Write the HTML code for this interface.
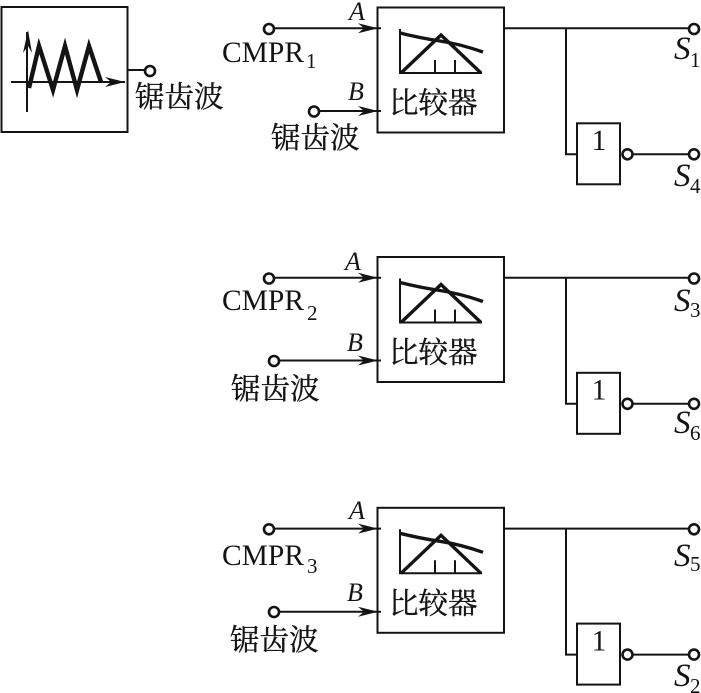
<!DOCTYPE html>
<html>
<head>
<meta charset="utf-8">
<style>
html,body{margin:0;padding:0;background:#fff;width:701px;height:693px;overflow:hidden}
svg{display:block}
text{fill:#141414}
.cn{font-family:"Liberation Serif","Noto Serif CJK SC",serif;font-size:29.500px;stroke:#141414;stroke-width:.35}
.la{font-family:"Liberation Serif",serif;font-size:29.500px}
.sub{font-family:"Liberation Serif",serif;font-size:21px}
.it{font-family:"Liberation Serif",serif;font-style:italic;font-size:26px}
.s{font-family:"Liberation Serif",serif;font-style:italic;font-size:33px}
.l{stroke:#141414;stroke-width:2;fill:none}
.c{stroke:#141414;stroke-width:2.600;fill:#fff}
.b{stroke:#141414;stroke-width:3.400;fill:none}
</style>
</head>
<body>
<svg width="701" height="693" viewBox="0 0 701 693" xmlns="http://www.w3.org/2000/svg">
<defs>
<path id="ah" d="M0 0 L-20 -5 L-14 0 L-20 5 Z" fill="#141414"/>
<g id="comp">
  <rect x="377.500" y="7.500" width="126.500" height="125" class="l"/>
  <path d="M400 29 V73 H482" class="l"/>
  <path d="M435 60 V73 M455 60 V73" class="l"/>
  <path d="M401 73 L441 35 L481 73" class="b"/>
  <path d="M400 33 Q420 38 440 41 T483 52" class="b"/>
  <text x="389" y="113" class="cn">比较器</text>
  <path d="M504 28.300 H689 M566 28 V154.300 H577" class="l"/>
  <rect x="577" y="123.300" width="43" height="61" class="l"/>
  <text x="599" y="150" class="la" text-anchor="middle">1</text>
  <path d="M633 154.300 H689" class="l"/>
  <circle cx="627.500" cy="154.300" r="5" class="c"/>
  <circle cx="694" cy="29" r="5" class="c"/>
  <circle cx="694" cy="154.300" r="5" class="c"/>
  <path d="M275 28.300 H381" class="l"/>
  <use href="#ah" x="378" y="28.300"/>
  <circle cx="269" cy="29" r="5" class="c"/>
</g>
</defs>

<!-- Sawtooth source -->
<rect x="1.500" y="7" width="126" height="125" class="l"/>
<path d="M11 82 H125 M27 32 V112" class="l"/>
<path d="M29 88 L39 46 L53 90 L65 46 L77 90 L89 46 L101 82" style="stroke:#141414;stroke-width:4.400;fill:none"/>
<path d="M28 30 L23 53 L28 46 L32 53 Z" fill="#141414"/>
<use href="#ah" x="125" y="82"/>
<path d="M127 70 H145" class="l"/>
<circle cx="150" cy="71" r="5" class="c"/>
<text x="135" y="107" class="cn">锯齿波</text>

<!-- Row 1 -->
<use href="#comp"/>
<text x="349" y="20" class="it">A</text>
<text x="348" y="100" class="it">B</text>
<text x="222" y="62" class="la">CMPR</text>
<text x="306" y="68" class="sub">1</text>
<path d="M320 111 H381" class="l"/>
<use href="#ah" x="378" y="111"/>
<circle cx="314" cy="111.500" r="5" class="c"/>
<text x="271" y="148" class="cn">锯齿波</text>
<text x="674" y="59" class="s">S</text><text x="690" y="67" class="sub">1</text>
<text x="674" y="186" class="s">S</text><text x="690" y="193" class="sub">4</text>

<!-- Row 2 -->
<use href="#comp" y="249.500"/>
<text x="345" y="270" class="it">A</text>
<text x="347" y="351" class="it">B</text>
<text x="222" y="310" class="la">CMPR</text>
<text x="307" y="320" class="sub">2</text>
<path d="M280 360.500 H381" class="l"/>
<use href="#ah" x="378" y="360.500"/>
<circle cx="274" cy="361" r="5" class="c"/>
<text x="231" y="399" class="cn">锯齿波</text>
<text x="674" y="311" class="s">S</text><text x="690" y="317" class="sub">3</text>
<text x="674" y="433" class="s">S</text><text x="690" y="440" class="sub">6</text>

<!-- Row 3 -->
<use href="#comp" y="500.300"/>
<text x="349" y="519" class="it">A</text>
<text x="347" y="601" class="it">B</text>
<text x="222" y="565" class="la">CMPR</text>
<text x="307" y="573" class="sub">3</text>
<path d="M280 611.700 H381" class="l"/>
<use href="#ah" x="378" y="611.700"/>
<circle cx="274" cy="612" r="5" class="c"/>
<text x="230" y="650" class="cn">锯齿波</text>
<text x="674" y="566" class="s">S</text><text x="690" y="571" class="sub">5</text>
<text x="674" y="686" class="s">S</text><text x="690" y="693" class="sub">2</text>
</svg>
</body>
</html>
